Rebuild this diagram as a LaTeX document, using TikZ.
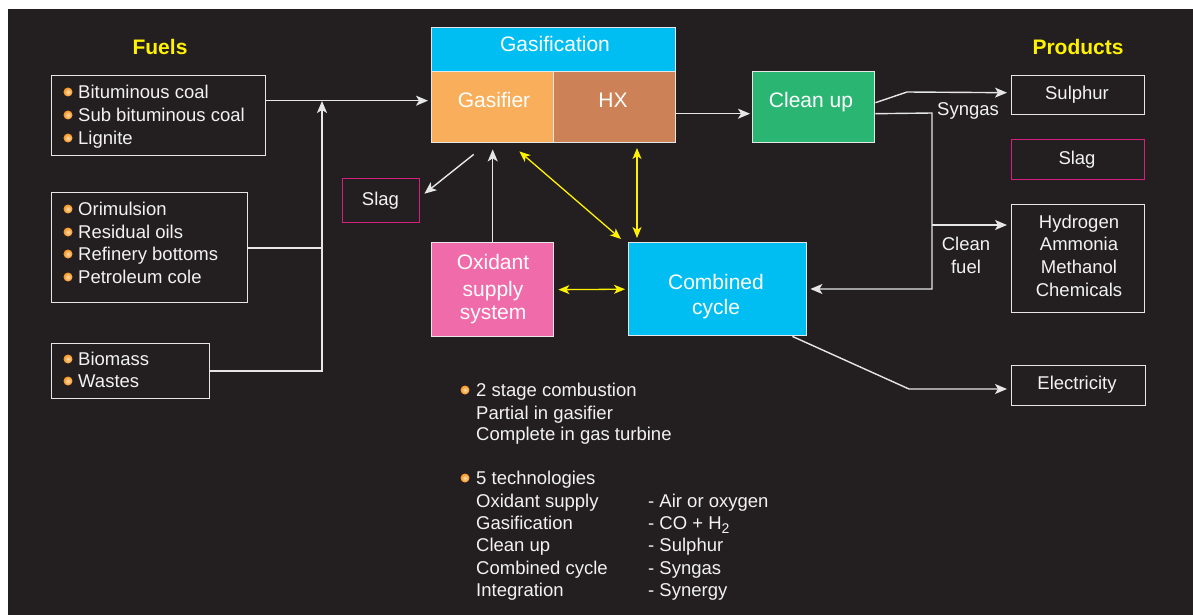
\documentclass[tikz,border=0pt]{standalone}
\usepackage{fontspec}
\setmainfont{Liberation Sans}
\usetikzlibrary{arrows.meta}
\definecolor{bg}{HTML}{231F20}
\definecolor{fg}{HTML}{F2F2F2}
\definecolor{lineC}{HTML}{E6E6E6}
\definecolor{cyanC}{HTML}{00BEF2}
\definecolor{orgC}{HTML}{F9AE5B}
\definecolor{hxC}{HTML}{CC8156}
\definecolor{grnC}{HTML}{2BB573}
\definecolor{pinkC}{HTML}{F06BAA}
\definecolor{magC}{HTML}{D4217F}
\definecolor{yelC}{HTML}{FFF200}
\definecolor{bulC}{HTML}{F7941D}
\definecolor{bulL}{HTML}{FDDCB0}
\tikzset{
 txt/.style={text=fg, font=\fontsize{18.5}{23}\selectfont, inner sep=0pt, anchor=base west},
 ctxt/.style={text=fg, font=\fontsize{18.5}{23}\selectfont, inner sep=0pt, anchor=base},
 big/.style={text=white, font=\fontsize{21}{25}\selectfont, inner sep=0pt, anchor=base},
 ttl/.style={text=yelC, font=\bfseries\fontsize{21}{25}\selectfont, inner sep=0pt, anchor=base},
 wbox/.style={draw=lineC, line width=1.4pt, inner sep=0pt, anchor=north west},
 mbox/.style={draw=magC, line width=1.4pt, inner sep=0pt, anchor=north west},
 conn/.style={draw=lineC, line width=1.4pt},
 arr/.style={conn, -{Stealth[length=12pt,width=10pt,inset=3pt]}},
 yarr/.style={draw=yelC, line width=1.3pt, {Stealth[length=11pt,width=9pt,inset=3pt]}-{Stealth[length=11pt,width=9pt,inset=3pt]}},
 bul/.style={inner color=bulL, outer color=bulC}
}
\begin{document}
\begin{tikzpicture}[x=1pt,y=-1pt]
\useasboundingbox (0,0) rectangle (1193,615);
\fill[white] (0,0) rectangle (1193,615);
\fill[bg] (8,9) rectangle (1193,615);

% titles
\node[ttl] (fuels) at (160,54.5) {Fuels};
\node[ttl] (products) at (1078,54.5) {Products};

% fuel boxes
\node[wbox, minimum width=214, minimum height=80] (f1) at (51,75) {};
\node[wbox, minimum width=196, minimum height=110] (f2) at (51,192) {};
\node[wbox, minimum width=158, minimum height=55] (f3) at (51,343) {};
\foreach \y/\t [count=\i] in {92/Bituminous coal, 115/Sub bituminous coal, 138/Lignite} {
  \shade[bul] (68,\y) circle (4.5pt);
  \node[txt] (fa\i) at (78,\y+6.6) {\t};
}
\foreach \y/\t [count=\i] in {209/Orimulsion, 232/Residual oils, 254/Refinery bottoms, 277/Petroleum cole} {
  \shade[bul] (68,\y) circle (4.5pt);
  \node[txt] (fb\i) at (78,\y+6.6) {\t};
}
\foreach \y/\t [count=\i] in {359/Biomass, 381/Wastes} {
  \shade[bul] (68,\y) circle (4.5pt);
  \node[txt] (fc\i) at (78,\y+6.6) {\t};
}

% gasification block
\node[wbox, fill=cyanC, minimum width=244, minimum height=44] (gasif) at (431,27) {};
\node[wbox, fill=orgC, minimum width=122, minimum height=71] (gasifier) at (431,71) {};
\node[wbox, fill=hxC, minimum width=122, minimum height=71] (hx) at (553,71) {};
\node[big] (gasifT) at (555,51.5) {Gasification};
\node[big] (gasifierT) at (494,107.5) {Gasifier};
\node[big] (hxT) at (613,107.5) {HX};

% clean up
\node[wbox, fill=grnC, minimum width=122, minimum height=71] (cleanup) at (752,71) {};
\node[big] (cleanupT) at (811,107.5) {Clean up};

% slag left
\node[mbox, minimum width=77, minimum height=44] (slagL) at (342,178) {};
\node[ctxt] (slagLT) at (380.5,205.6) {Slag};

% oxidant
\node[wbox, fill=pinkC, minimum width=122, minimum height=94] (oxid) at (431,242) {};
\node[big] (ox1) at (493,269.5) {Oxidant};
\node[big] (ox2) at (493,296.5) {supply};
\node[big] (ox3) at (493,319.5) {system};

% combined cycle
\node[wbox, fill=cyanC, minimum width=178, minimum height=93] (combined) at (628,242) {};
\node[big] (cc1) at (716,289.5) {Combined};
\node[big] (cc2) at (716,314.5) {cycle};

% products
\node[wbox, minimum width=133, minimum height=39] (sulphur) at (1011,75) {};
\node[ctxt] (sulphurT) at (1077,99.6) {Sulphur};
\node[mbox, minimum width=133, minimum height=40] (slagR) at (1011,139) {};
\node[ctxt] (slagRT) at (1077,164.6) {Slag};
\node[wbox, minimum width=133, minimum height=108] (hydro) at (1011,204) {};
\node[ctxt] (h1) at (1079,228.6) {Hydrogen};
\node[ctxt] (h2) at (1079,250.6) {Ammonia};
\node[ctxt] (h3) at (1079,273.6) {Methanol};
\node[ctxt] (h4) at (1079,296.6) {Chemicals};
\node[wbox, minimum width=134, minimum height=40] (elec) at (1011,365) {};
\node[ctxt] (elecT) at (1077,389.6) {Electricity};

% connector labels
\node[ctxt] (syngas) at (968,115.6) {Syngas};
\node[ctxt] (clean1) at (966,250.6) {Clean};
\node[ctxt] (clean2) at (966,273.6) {fuel};

% fuel connectors
\coordinate (busTop) at (322,101);
\coordinate (bus2) at (322,248);
\coordinate (bus3) at (322,371);
\draw[arr] ([yshift=15pt]f1.east) -- ([yshift=6.5pt,xshift=-3pt]gasifier.west);
\draw[conn] (f2.east |- bus2) -- (bus2);
\draw[arr] (f3.east |- bus3) -- (bus3) -- (busTop);

% main flow
\draw[arr] ([yshift=-6.5pt]hx.east) -- ([yshift=-6.5pt,xshift=-2pt]cleanup.west);
\coordinate (sg) at (907,92);
\draw[arr] ([yshift=4.5pt]cleanup.east) -- (sg) -- ([yshift=2.5pt,xshift=-4pt]sulphur.west);
\coordinate (cf1) at (932,113);
\coordinate (cf2) at (932,225);
\coordinate (cf3) at (932,289);
\draw[arr, shorten >=3pt] ([yshift=-6.5pt]cleanup.east) -- (cf1) -- (cf3) -- (combined.east |- cf3);
\draw[arr, shorten >=4pt] (cf2) -- (hydro.west |- cf2);
\coordinate (el) at (909,389);
\draw[arr, shorten >=4pt] ([xshift=-15pt]combined.south east) -- (el) -- (elec.west |- el);

\draw[arr] ([xshift=-19pt,yshift=-11pt]gasifier.south) -- ([xshift=4pt,yshift=7pt]slagL.east);
\draw[arr, shorten >=6pt] (oxid.north) -- (oxid.north |- gasifier.south);

% yellow
\draw[yarr] ([xshift=-35pt,yshift=-8pt]gasifier.south east) -- ([xshift=-7pt,yshift=3pt]combined.north west);
\coordinate (yv1) at (637,148);
\coordinate (yv2) at (637,238);
\draw[yarr] (yv1) -- (yv2);
\draw[yarr, shorten <=4pt, shorten >=3pt] (oxid.east) -- (combined.west);

% bottom notes
\shade[bul] (465,390) circle (4.5pt);
\shade[bul] (465,478) circle (4.5pt);
\foreach \y/\t [count=\i] in {390/2 stage combustion, 413/Partial in gasifier, 434/Complete in gas turbine, 478/5 technologies, 501/Oxidant supply, 523/Gasification, 545/Clean up, 568/Combined cycle, 590/Integration} {
  \node[txt] (n\i) at (476,\y+6.6) {\t};
}
\foreach \y/\t [count=\i] in {501/- Air or oxygen, 523/{- CO + H\raisebox{-0.35ex}{\fontsize{14}{14}\selectfont 2}}, 545/- Sulphur, 568/- Syngas, 590/- Synergy} {
  \node[txt] (m\i) at (648,\y+6.6) {\t};
}
\end{tikzpicture}
\end{document}
